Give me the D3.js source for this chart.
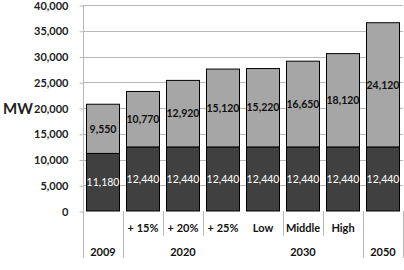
<!DOCTYPE html>
<html>
<head>
<meta charset="utf-8">
<script src="https://cdn.jsdelivr.net/npm/d3@7"></script>
<style>
body { margin: 0; background: #fff; }
text { font-family: Lato, "Open Sans", sans-serif; }
</style>
</head>
<body>
<div id="chart"></div>
<script>
var subLabels = ['', '+ 15%', '+ 20%', '+ 25%', 'Low', 'Middle', 'High', ''];
var groupLabels = ['2009', '2020', '2030', '2050'];
var groupSpans = [1, 3, 3, 1];
var baseMW = [11180, 12440, 12440, 12440, 12440, 12440, 12440, 12440];
var addedMW = [9550, 10770, 12920, 15120, 15220, 16650, 18120, 24120];
var yTicks = [0, 5000, 10000, 15000, 20000, 25000, 30000, 35000, 40000];

var chartW = 404, chartH = 270;
var plotLeft = 83, plotRight = 403, plotTop = 5, plotBottom = 211;

var svg = d3.select('#chart').append('svg').attr('width', chartW).attr('height', chartH);

var x = d3.scaleBand().domain(d3.range(subLabels.length)).range([plotLeft, plotRight]).paddingInner(0.15).paddingOuter(0.075);
var y = d3.scaleLinear().domain([0, 40000]).range([plotBottom, plotTop]);
var step = x.step();

// grid lines
svg.append('g').selectAll('line').data(yTicks.slice(1)).enter().append('line')
    .attr('x1', plotLeft).attr('x2', plotRight)
    .attr('y1', function(d) { return Math.round(y(d)) + 0.5; })
    .attr('y2', function(d) { return Math.round(y(d)) + 0.5; })
    .attr('stroke', '#b8b8b8').attr('stroke-width', 1);

// y axis
var yAxis = svg.append('g').attr('transform', 'translate(' + (plotLeft + 0.5) + ',0.5)')
    .call(d3.axisLeft(y).tickValues(yTicks).tickFormat(d3.format(',')).tickSize(4).tickPadding(11));
yAxis.select('.domain').remove();
yAxis.selectAll('line').attr('stroke', '#b8b8b8');
yAxis.selectAll('text').attr('font-size', 11).attr('font-weight', 'bold').attr('fill', '#222')
    .attr('font-family', 'Lato, sans-serif');

svg.append('text').attr('x', 3).attr('y', 114).attr('font-size', 15).attr('font-weight', 'bold')
    .attr('fill', '#222').text('MW');

// category separators below axis
var longLines = [0, 1, 7, 8];
var shortLines = [2, 3, 5, 6];
svg.append('g').selectAll('line').data(longLines).enter().append('line')
    .attr('x1', function(d) { return Math.round(plotLeft + d * step) + 0.5; })
    .attr('x2', function(d) { return Math.round(plotLeft + d * step) + 0.5; })
    .attr('y1', function(d) { return d == 0 ? plotTop : plotBottom; }).attr('y2', 258)
    .attr('stroke', '#b8b8b8');
svg.append('g').selectAll('line').data(shortLines).enter().append('line')
    .attr('x1', function(d) { return Math.round(plotLeft + d * step) + 0.5; })
    .attr('x2', function(d) { return Math.round(plotLeft + d * step) + 0.5; })
    .attr('y1', plotBottom).attr('y2', 236)
    .attr('stroke', '#b8b8b8');

// bars
var bars = svg.append('g').selectAll('g').data(d3.range(subLabels.length)).enter().append('g');
bars.append('rect')
    .attr('x', function(i) { return x(i) + 0.5; })
    .attr('y', function(i) { return y(baseMW[i]); })
    .attr('width', x.bandwidth() - 1)
    .attr('height', function(i) { return y(0) - y(baseMW[i]); })
    .attr('fill', '#404040').attr('stroke', '#000').attr('stroke-width', 1);
bars.append('rect')
    .attr('x', function(i) { return x(i) + 0.5; })
    .attr('y', function(i) { return y(baseMW[i] + addedMW[i]); })
    .attr('width', x.bandwidth() - 1)
    .attr('height', function(i) { return y(baseMW[i]) - y(baseMW[i] + addedMW[i]); })
    .attr('fill', '#a6a6a6').attr('stroke', '#000').attr('stroke-width', 1);

var fmt = d3.format(',');
bars.append('text')
    .attr('x', function(i) { return x(i) + x.bandwidth() / 2; })
    .attr('y', function(i) { return y(baseMW[i] / 2); })
    .attr('dy', '0.35em').attr('text-anchor', 'middle')
    .attr('font-size', 10.5).attr('fill', '#fff')
    .text(function(i) { return fmt(baseMW[i]); });
bars.append('text')
    .attr('x', function(i) { return x(i) + x.bandwidth() / 2; })
    .attr('y', function(i) { return y(baseMW[i] + addedMW[i] / 2); })
    .attr('dy', '0.35em').attr('text-anchor', 'middle')
    .attr('font-size', 10.5).attr('font-weight', 'bold').attr('fill', '#111')
    .text(function(i) { return fmt(addedMW[i]); });

// category labels
svg.append('g').selectAll('text').data(d3.range(subLabels.length)).enter().append('text')
    .attr('x', function(i) { return x(i) + x.bandwidth() / 2; })
    .attr('y', 232).attr('text-anchor', 'middle')
    .attr('font-size', 11).attr('font-weight', 'bold').attr('fill', '#111')
    .text(function(i) { return subLabels[i]; });

var start = 0;
var groupPos = groupSpans.map(function(s) { var c = plotLeft + (start + s / 2) * step; start += s; return c; });
svg.append('g').selectAll('text').data(groupLabels).enter().append('text')
    .attr('x', function(d, i) { return groupPos[i]; })
    .attr('y', 256).attr('text-anchor', 'middle')
    .attr('font-size', 11).attr('font-weight', 'bold').attr('fill', '#111')
    .text(function(d) { return d; });
</script>
</body>
</html>
